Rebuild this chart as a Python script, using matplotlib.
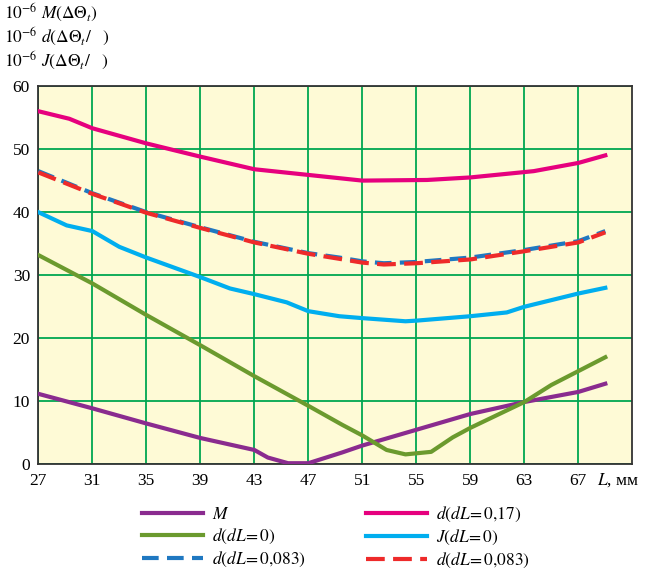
import matplotlib
matplotlib.use("Agg")
import matplotlib.pyplot as plt

plt.rcParams["font.family"] = ["Liberation Serif", "DejaVu Serif"]
plt.rcParams["mathtext.fontset"] = "stix"

# data
x_m = [27, 31, 35, 39, 43, 44, 45.5, 47, 49.5, 51, 55, 59, 63, 67, 69]
y_m = [11.2, 8.9, 6.5, 4.2, 2.3, 1.1, 0.2, 0.2, 1.9, 3.0, 5.5, 8.0, 9.9, 11.5, 12.8]

x_d0 = [27, 31, 35, 39, 43, 47, 49.5, 51, 52.8, 54.2, 56.1, 57.7, 59, 63, 65, 67, 69]
y_d0 = [33.2, 28.7, 23.7, 18.9, 14.0, 9.3, 6.3, 4.6, 2.3, 1.6, 2.0, 4.3, 5.8, 9.9, 12.6, 14.8, 17.0]

x_d17 = [27, 29.3, 31, 35, 39, 43, 47, 51, 55.8, 59, 63.7, 67, 69]
y_d17 = [56.0, 54.8, 53.3, 50.9, 48.8, 46.8, 45.9, 45.0, 45.1, 45.5, 46.5, 47.8, 49.0]

x_j0 = [27, 29.1, 31, 33, 35, 39, 41.2, 43, 45.4, 47, 49.3, 51, 54.2, 55, 59, 61.7, 63, 67, 69]
y_j0 = [40.0, 37.9, 37.0, 34.5, 32.8, 29.7, 27.9, 27.0, 25.7, 24.3, 23.5, 23.2, 22.7, 22.8, 23.5, 24.1, 25.0, 27.1, 28.0]

x_d083 = [27, 31, 35, 39, 43, 47, 49.3, 51, 52.6, 55, 59, 63, 67, 69]
y_d083_b = [46.5, 43.0, 40.0, 37.6, 35.3, 33.5, 32.8, 32.2, 31.9, 32.1, 32.8, 34.0, 35.4, 37.0]
y_d083_r = [46.3, 42.9, 39.9, 37.5, 35.2, 33.4, 32.6, 32.0, 31.7, 31.9, 32.5, 33.8, 35.2, 36.8]

x_ticks = [27, 31, 35, 39, 43, 47, 51, 55, 59, 63, 67]
y_ticks = [0, 10, 20, 30, 40, 50, 60]

fig = plt.figure(figsize=(6.47, 5.69), dpi=100)
ax = fig.add_axes([0.0592, 0.1837, 0.9181, 0.6652])
ax.set_facecolor("#fefad6")

ax.plot(x_m, y_m, color="#8a2b8f", lw=3, label=r"$M$", zorder=3)
ax.plot(x_d0, y_d0, color="#6b9a2e", lw=3, label=r"$d(dL\!=0)$", zorder=3)
ax.plot(x_d083, y_d083_b, color="#1f78c1", lw=3, dashes=(4, 2),
        label=r"$d(dL\!=0{,}083)$", zorder=3)
ax.plot(x_d17, y_d17, color="#e6007e", lw=3, label=r"$d(dL\!=0{,}17)$", zorder=3)
ax.plot(x_j0, y_j0, color="#00aeef", lw=3, label=r"$J(dL\!=0)$", zorder=3)
ax.plot(x_d083, y_d083_r, color="#ee2a2a", lw=3, dashes=(4.5, 2), dash_capstyle="butt",
        label=r"$d(dL\!=0{,}083)$", zorder=4)

ax.set_xlim(27, 71)
ax.set_ylim(0, 60)
ax.set_xticks(x_ticks)
ax.set_yticks(y_ticks)
ax.tick_params(length=0, labelsize=12.5, pad=6)
ax.grid(True, color="#00a650", lw=1.3)
ax.set_axisbelow(True)
for s in ax.spines.values():
    s.set_color("#333333")
    s.set_linewidth(1.3)

fig.text(0.988, 0.157, r"$L$, мм", ha="right", va="center", fontsize=12.5)

fig.text(0.006, 0.978, r"$10^{-6}\ M(\Delta\Theta_t)$", fontsize=12.5, va="center")
fig.text(0.006, 0.935, r"$10^{-6}\ d(\Delta\Theta_t/\quad)$", fontsize=12.5, va="center")
fig.text(0.006, 0.893, r"$10^{-6}\ J(\Delta\Theta_t/\quad)$", fontsize=12.5, va="center")

fig.legend(loc="lower left", bbox_to_anchor=(0.196, -0.03), ncol=2, frameon=False,
           fontsize=12.5, handlelength=3.5, handletextpad=0.5, columnspacing=3.5,
           labelspacing=0.22)

fig.savefig("out.png", dpi=100)
